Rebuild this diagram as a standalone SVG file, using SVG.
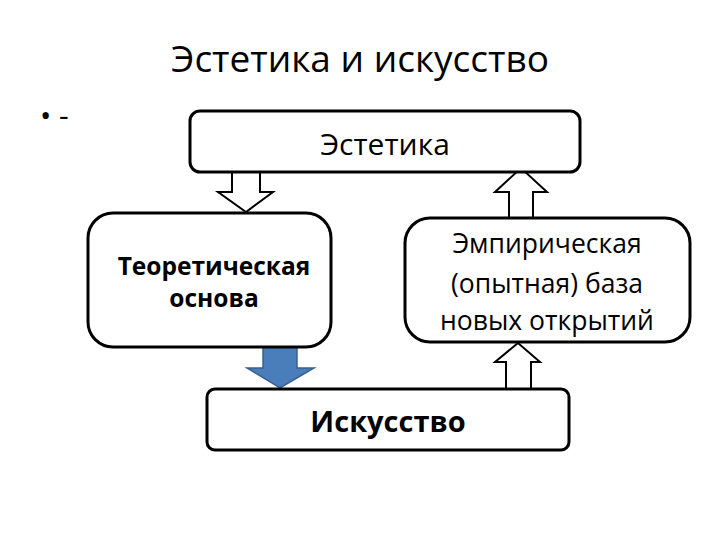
<svg xmlns="http://www.w3.org/2000/svg" width="720" height="540" viewBox="0 0 720 540">
<style>
.box{fill:#fff;stroke:#000;stroke-width:3}
.arr{fill:#fff;stroke:#000;stroke-width:2}
text{font-family:"Open Sans","Noto Sans",sans-serif;fill:#000;text-anchor:middle}
</style>
<rect width="720" height="540" fill="#fff"/>
<text x="360" y="72" font-size="37">Эстетика и искусство</text>
<text x="40" y="126" font-size="30" style="text-anchor:start">•  -</text>
<g id="connectors">
<path class="arr" d="M232,172 V192 H218 L246,212 L273,192 H260 V172"/>
<path class="arr" d="M509,218 V192 H495 L521,168 L547,192 H533 V218"/>
<path d="M263,347 V368 H247 L280,388 L314,368 H297 V347" fill="#4a7ebb" stroke="#3a5f8f" stroke-width="1.5"/>
<path class="arr" d="M506,388 V362 H495 L518,343 L540,362 H531 V388"/>
</g>
<g id="n1"><rect class="box" x="190" y="111" width="390" height="61" rx="10"/>
<text x="385" y="155" font-size="30">Эстетика</text></g>
<g id="n2"><rect class="box" x="88" y="213" width="243" height="134" rx="25"/>
<text x="214" y="275" font-size="24.5" font-weight="bold">Теоретическая</text>
<text x="214" y="307" font-size="24.5" font-weight="bold">основа</text></g>
<g id="n3"><rect class="box" x="405" y="218" width="285" height="124" rx="25"/>
<text x="547" y="253" font-size="26.5">Эмпирическая</text>
<text x="547" y="293" font-size="26.5">(опытная) база</text>
<text x="547" y="330" font-size="26.5">новых  открытий</text></g>
<g id="n4"><rect class="box" x="207" y="389" width="362" height="61" rx="8"/>
<text x="388" y="432" font-size="29" font-weight="bold">Искусство</text></g>
</svg>
